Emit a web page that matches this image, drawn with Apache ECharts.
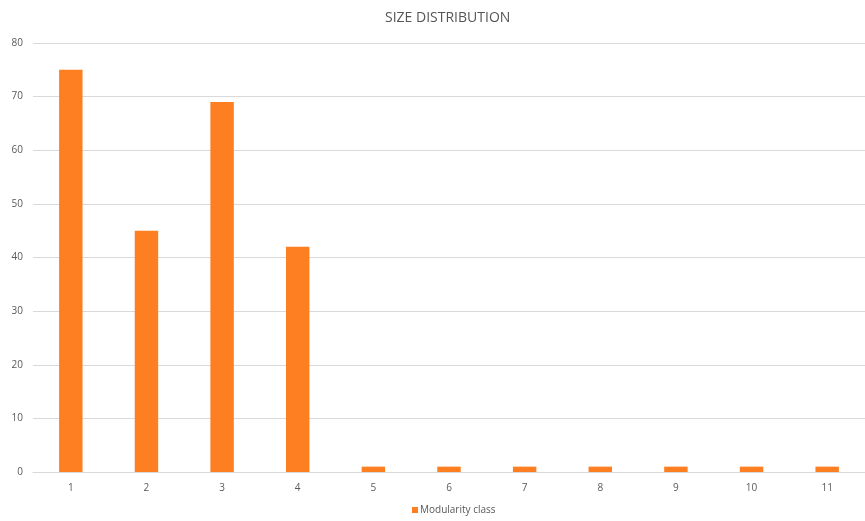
<!DOCTYPE html>
<html><head><meta charset="utf-8">
<script src="https://cdn.jsdelivr.net/npm/echarts@6/dist/echarts.min.js"></script>
<style>html,body{margin:0;padding:0;background:#fff}#c{width:865px;height:521px}</style>
</head><body><div id="c"></div>
<script>
const categories = ['1','2','3','4','5','6','7','8','9','10','11'];
const values = [75, 45, 69, 42, 1, 1, 1, 1, 1, 1, 1];
const seriesName = 'Modularity class';
const titleText = 'SIZE DISTRIBUTION';

const chart = echarts.init(document.getElementById('c'));
const font = '"Open Sans", Lato, sans-serif';
chart.setOption({
  animation: false,
  title: {text: titleText, left: 380, top: 6,
    textStyle: {fontFamily: font, fontSize: 14, fontWeight: 'normal', color: '#555555'}},
  grid: {left: 33, right: -10, top: 43, bottom: 49, containLabel: false},
  legend: {bottom: 1, left: 407, icon: 'rect', itemWidth: 6, itemHeight: 6, itemGap: 4,
    textStyle: {fontFamily: font, fontSize: 10, color: '#595959', padding: [0,0,0,-3]}},
  xAxis: {type: 'category', data: categories,
    axisLine: {lineStyle: {color: '#d9d9d9', width: 1}},
    axisTick: {show: false},
    axisLabel: {color: '#595959', fontFamily: font, fontSize: 10, margin: 11}},
  yAxis: {type: 'value', min: 0, max: 80, interval: 10,
    axisLine: {show: false}, axisTick: {show: false},
    splitLine: {lineStyle: {color: '#d9d9d9', width: 1}},
    axisLabel: {color: '#595959', fontFamily: font, fontSize: 10, margin: 10}},
  series: [{name: seriesName, type: 'bar', data: values, barWidth: '31%',
    itemStyle: {color: '#fe7f22'}}]
});
</script></body></html>
